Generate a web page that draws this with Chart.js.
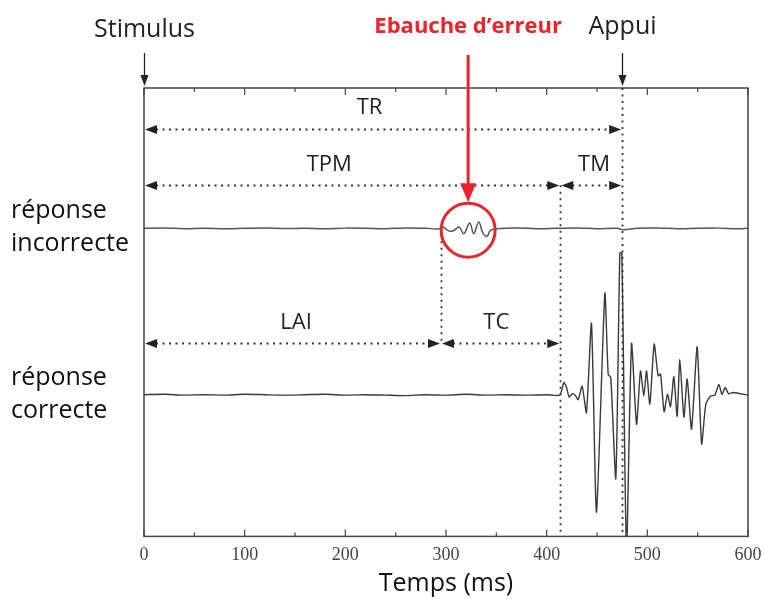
<!DOCTYPE html>
<html><head><meta charset="utf-8">
<script src="https://cdn.jsdelivr.net/npm/chart.js@4/dist/chart.umd.min.js"></script>
<style>html,body{margin:0;padding:0;background:#fff}canvas{display:block}</style>
</head><body>
<canvas id="c" width="764" height="599"></canvas>
<script>
// ---- data (time in ms, amplitude in arbitrary units 0..100 of the panel) ----
const tickValues = [0, 100, 200, 300, 400, 500, 600];
const axisTitle = 'Temps (ms)';
const incorrectTimes  = [0, 20, 40, 60, 80, 100, 120, 140, 160, 180, 200, 220, 240, 260, 280, 293.7, 297, 302, 307, 313, 317.6, 323.6, 327.5, 332.5, 336.8, 340.8, 344, 350, 370, 390, 410, 430, 450, 470, 476, 490, 510, 530, 550, 570, 590, 600];
const incorrectValues = [68.7, 68.8, 68.6, 68.75, 68.6, 68.7, 68.8, 68.65, 68.7, 68.6, 68.75, 68.7, 68.6, 68.8, 68.7, 68.6, 69.0, 68.2, 68.1, 69.0, 67.5, 69.9, 67.5, 70.1, 67.6, 66.9, 68.2, 68.6, 68.8, 68.6, 68.7, 68.8, 68.6, 68.7, 68.4, 68.7, 68.8, 68.6, 68.7, 68.75, 68.6, 68.7];
const correctTimes  = [0, 20, 40, 60, 80, 100, 120, 140, 160, 180, 200, 220, 240, 260, 280, 300, 320, 340, 360, 380, 400, 413, 417, 419.7, 422.3, 425.3, 428.3, 431.3, 435.2, 439.5, 444.5, 449.5, 457.8, 461.1, 463.7, 468.7, 472.7, 474.7, 479.3, 484.3, 489.3, 493.2, 496.5, 499.2, 502.5, 506.8, 510.7, 513.1, 516.7, 520, 523, 526.3, 529.6, 532.3, 536.3, 539.6, 543.9, 549.5, 553.9, 558.1, 562.8, 567.1, 571.1, 574.1, 577.4, 580.7, 585.3, 600];
const correctValues = [31.6, 31.7, 31.5, 31.6, 31.5, 31.7, 31.6, 31.5, 31.6, 31.7, 31.5, 31.6, 31.5, 31.4, 31.6, 31.5, 31.7, 31.5, 31.6, 31.5, 31.6, 31.5, 34.3, 33.2, 31.1, 31.8, 31.5, 30.5, 33.5, 27.6, 47.5, 5.4, 54.2, 36.2, 35.4, 12.9, 63.2, 63.2, -3, 43.0, 25.0, 36.9, 31.3, 36.9, 29.5, 42.9, 35.8, 36.2, 27.8, 31.7, 28.9, 35.6, 26.8, 39.4, 26.6, 35.1, 23.9, 42.3, 20.6, 29.5, 31.3, 31.5, 33.9, 31.7, 33.2, 31.8, 32.1, 31.5];

// interval annotations
const intervalNames  = ['TR', 'TPM', 'TM', 'LAI', 'TC'];
const intervalStarts = [0, 0, 413.5, 0, 295];
const intervalEnds   = [475, 413.5, 475, 295, 413.5];
const intervalLevels = [90.8, 78.3, 78.3, 43.2, 43.2];
const labelTimes     = [224, 184, 447, 151, 350];
const labelLevels    = [95.5, 82.8, 82.8, 47.7, 47.7];
// vertical dotted guides
const guideTimes = [475, 413.5, 295];
const guideFrom  = [100, 78.3, 68.7];
const guideTo    = [1, 1, 43.2];
// event markers above the panel
const eventNames = ['Stimulus', 'Appui'];
const eventTimes = [0, 475];
const errorTime = 322, errorLevel = 68.3;
const errorText = 'Ebauche d\u2019erreur';
const traceLabels = [['réponse', 'incorrecte'], ['réponse', 'correcte']];
const traceLevels = [68.7, 31.6];

const SANS = '"Open Sans", "Noto Sans", sans-serif';
const INK = '#222';

function arrowHead(ctx, x, y, dir, len, half) {
  ctx.beginPath();
  ctx.moveTo(x, y);
  ctx.lineTo(x - dir * len, y - half);
  ctx.lineTo(x - dir * len, y + half);
  ctx.closePath();
  ctx.fill();
}

const annot = {
  id: 'annot',
  afterDraw(chart) {
    const ctx = chart.ctx, xs = chart.scales.x, ys = chart.scales.y, a = chart.chartArea;
    ctx.save();
    // frame
    ctx.strokeStyle = '#444'; ctx.lineWidth = 1.5; ctx.setLineDash([]);
    ctx.strokeRect(a.left, a.top, a.right - a.left, a.bottom - a.top);
    // inward ticks
    ctx.lineWidth = 1.2;
    for (let t = 0; t <= 600; t += 50) {
      const px = xs.getPixelForValue(t), L = (t % 100 === 0) ? 7 : 4;
      ctx.beginPath();
      ctx.moveTo(px, a.bottom); ctx.lineTo(px, a.bottom - L);
      ctx.moveTo(px, a.top); ctx.lineTo(px, a.top + L);
      ctx.stroke();
    }
    // axis title
    ctx.fillStyle = '#111'; ctx.font = '25px ' + SANS; ctx.textAlign = 'center'; ctx.textBaseline = 'middle';
    ctx.fillText(axisTitle, (a.left + a.right) / 2, a.bottom + 47);
    // dotted guides
    ctx.strokeStyle = '#333'; ctx.lineWidth = 1.8; ctx.setLineDash([2, 4.5]);
    guideTimes.forEach((t, i) => {
      const px = Math.round(xs.getPixelForValue(t)) + 0.5;
      ctx.beginPath();
      ctx.moveTo(px, ys.getPixelForValue(guideFrom[i]));
      ctx.lineTo(px, ys.getPixelForValue(guideTo[i]));
      ctx.stroke();
    });
    // interval arrows
    ctx.fillStyle = INK;
    intervalNames.forEach((name, i) => {
      const x0 = xs.getPixelForValue(intervalStarts[i]), x1 = xs.getPixelForValue(intervalEnds[i]);
      const py = Math.round(ys.getPixelForValue(intervalLevels[i])) + 0.5;
      ctx.setLineDash([2, 4.5]); ctx.strokeStyle = '#333'; ctx.lineWidth = 1.8;
      ctx.beginPath(); ctx.moveTo(x0 + 12, py); ctx.lineTo(x1 - 12, py); ctx.stroke();
      ctx.setLineDash([]);
      arrowHead(ctx, x0 + 1, py, -1, 12, 4.5);
      arrowHead(ctx, x1 - 1, py, 1, 12, 4.5);
      ctx.font = '22px ' + SANS; ctx.textAlign = 'center'; ctx.textBaseline = 'middle';
      ctx.fillText(name, xs.getPixelForValue(labelTimes[i]), ys.getPixelForValue(labelLevels[i]));
    });
    // events above panel
    ctx.setLineDash([]);
    eventNames.forEach((name, i) => {
      const px = Math.round(xs.getPixelForValue(eventTimes[i])) + 0.5;
      ctx.strokeStyle = INK; ctx.lineWidth = 1.3;
      ctx.beginPath(); ctx.moveTo(px, a.top - 35); ctx.lineTo(px, a.top - 8); ctx.stroke();
      ctx.beginPath(); ctx.moveTo(px, a.top - 2); ctx.lineTo(px - 4, a.top - 13); ctx.lineTo(px + 4, a.top - 13); ctx.closePath(); ctx.fill();
      ctx.font = '25px ' + SANS; ctx.textAlign = 'center'; ctx.textBaseline = 'middle';
      ctx.fillText(name, px, a.top - (i === 0 ? 58 : 61));
    });
    // error marker (red)
    const ex = xs.getPixelForValue(errorTime), ey = ys.getPixelForValue(errorLevel);
    ctx.strokeStyle = '#e8262a'; ctx.fillStyle = '#e8262a'; ctx.lineWidth = 3;
    ctx.beginPath(); ctx.arc(ex, ey, 27, 0, Math.PI * 2); ctx.stroke();
    ctx.beginPath(); ctx.moveTo(ex, 55); ctx.lineTo(ex, ey - 42); ctx.stroke();
    ctx.beginPath(); ctx.moveTo(ex, ey - 28); ctx.lineTo(ex - 8, ey - 47); ctx.lineTo(ex + 8, ey - 47); ctx.closePath(); ctx.fill();
    ctx.font = 'bold 22px ' + SANS; ctx.textAlign = 'center'; ctx.textBaseline = 'middle';
    ctx.fillText(errorText, ex, 27);
    // trace labels on the left
    ctx.fillStyle = '#111'; ctx.font = '25px ' + SANS; ctx.textAlign = 'left';
    traceLabels.forEach((lines, i) => {
      const py = ys.getPixelForValue(traceLevels[i]);
      ctx.fillText(lines[0], 11, py - 17);
      ctx.fillText(lines[1], 11, py + 16);
    });
    ctx.restore();
  }
};

new Chart(document.getElementById('c'), {
  type: 'line',
  data: {
    datasets: [
      { label: 'réponse incorrecte', data: incorrectTimes.map((t, i) => ({ x: t, y: incorrectValues[i] })),
        borderColor: '#555', borderWidth: 1.5, pointRadius: 0, tension: 0.35 },
      { label: 'réponse correcte', data: correctTimes.map((t, i) => ({ x: t, y: correctValues[i] })),
        borderColor: '#3a3a3a', borderWidth: 1.4, pointRadius: 0, tension: 0.2 }
    ]
  },
  options: {
    responsive: false, animation: false,
    layout: { padding: { left: 144, right: 16, top: 88, bottom: 33 } },
    plugins: { legend: { display: false }, tooltip: { enabled: false } },
    scales: {
      x: {
        type: 'linear', min: 0, max: 600,
        afterBuildTicks: (s) => { s.ticks = tickValues.map(v => ({ value: v })); },
        grid: { display: false }, border: { display: false },
        ticks: { color: '#444', font: { family: '"Liberation Serif", serif', size: 18 }, padding: 0, maxRotation: 0 }
      },
      y: { display: false, min: 0, max: 100 }
    }
  },
  plugins: [annot]
});
</script>
</body></html>
